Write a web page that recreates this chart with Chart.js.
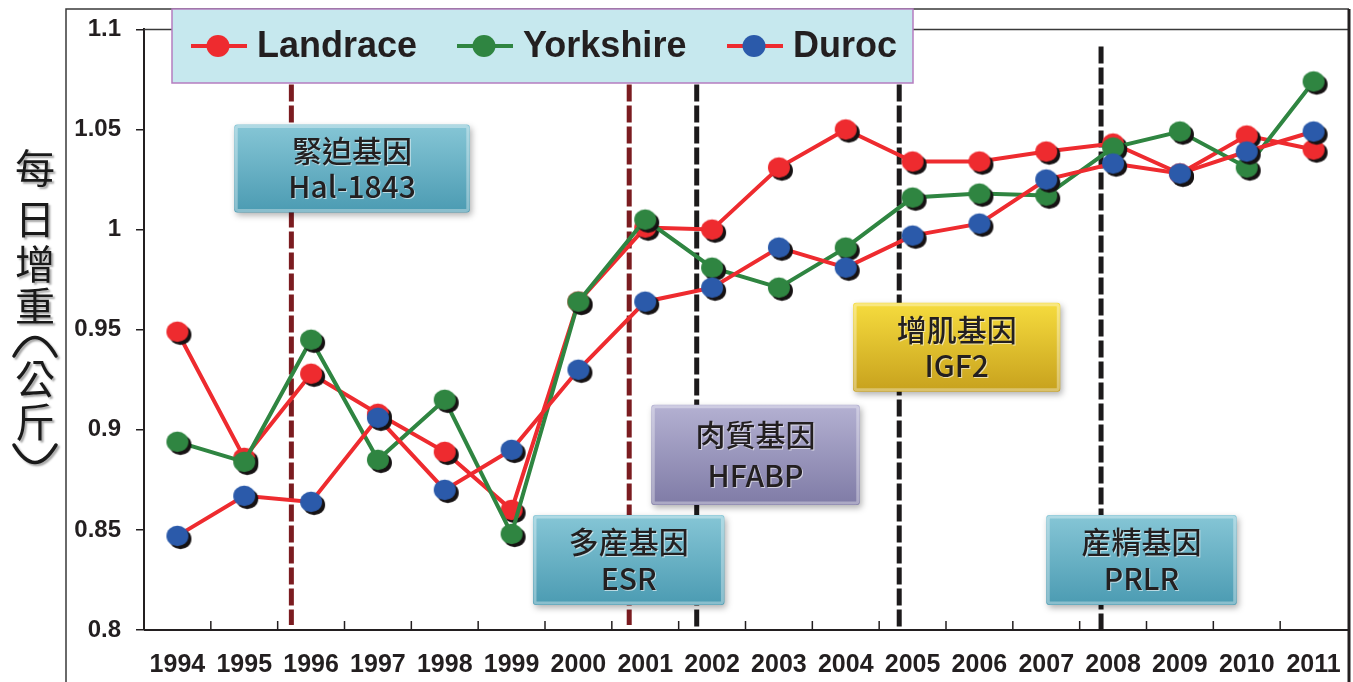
<!DOCTYPE html>
<html>
<head>
<meta charset="utf-8">
<title>每日增重</title>
<script src="https://cdn.jsdelivr.net/npm/chart.js@4"></script>
<style>
  html, body { margin: 0; padding: 0; background: #ffffff; }
  #wrap { width: 1353px; height: 682px; }
</style>
</head>
<body>
<div id="wrap"><canvas id="gainChart" width="1353" height="682"></canvas></div>
<script>
// ---- data ----
const years = ["1994", "1995", "1996", "1997", "1998", "1999", "2000", "2001", "2002",
  "2003", "2004", "2005", "2006", "2007", "2008", "2009", "2010", "2011"];
const landrace = [0.949, 0.886, 0.928, 0.908, 0.889, 0.860, 0.964, 1.001, 1.000,
  1.031, 1.050, 1.034, 1.034, 1.039, 1.043, 1.028, 1.047, 1.040];
const yorkshire = [0.894, 0.884, 0.945, 0.885, 0.915, 0.848, 0.964, 1.005, 0.981,
  0.971, 0.991, 1.016, 1.018, 1.017, 1.041, 1.049, 1.031, 1.074];
const duroc = [0.847, 0.867, 0.864, 0.906, 0.870, 0.890, 0.930, 0.964, 0.971,
  0.991, 0.981, 0.997, 1.003, 1.025, 1.033, 1.028, 1.039, 1.049];
const yTicks = [0.8, 0.85, 0.9, 0.95, 1, 1.05, 1.1];
const yTitle = ["每", "日", "增", "重", "︵", "公", "斤", "︶"];

// gene milestones (vertical dashed lines, in category units from the first year)
const geneLines = [
  { at: 1.705, from: 1.0725, to: 0.8025, color: "#7b1c20" },
  { at: 6.76, from: 1.0725, to: 0.8025, color: "#7b1c20" },
  { at: 7.77, from: 1.0725, to: 0.8, color: "#1c1a1b" },
  { at: 10.8, from: 1.0725, to: 0.8, color: "#1c1a1b" },
  { at: 13.82, from: 1.0915, to: 0.8, color: "#1c1a1b" }
];
// label boxes, x in category units, y in data units
const geneBoxes = [
  { x0: 0.85, x1: 4.375, top: 1.0525, bottom: 1.0085, lines: ["緊迫基因", "Hal-1843"], fill: ["#86c6d6", "#4b9bb2"] },
  { x0: 5.32, x1: 8.185, top: 0.8575, bottom: 0.8125, lines: ["多産基因", "ESR"], fill: ["#86c6d6", "#4b9bb2"] },
  { x0: 7.09, x1: 10.21, top: 0.9125, bottom: 0.8625, lines: ["肉質基因", "HFABP"], fill: ["#b4b1d2", "#7f7ba6"] },
  { x0: 10.11, x1: 13.21, top: 0.9635, bottom: 0.919, lines: ["增肌基因", "IGF2"], fill: ["#f6dc3e", "#c7a11d"] },
  { x0: 13.0, x1: 15.85, top: 0.8575, bottom: 0.8125, lines: ["産精基因", "PRLR"], fill: ["#86c6d6", "#4b9bb2"] }
];

const RED = "#ee2b2f";
const GREEN = "#2f8541";
const BLUE = "#2b5aaa";

// round marker with a hard black drop shadow, baked into a small canvas
function makeMarker(color, r, withShadow) {
  const size = Math.ceil((r + 5) * 2);
  const c = document.createElement("canvas");
  c.width = size;
  c.height = size;
  const g = c.getContext("2d");
  const mid = size / 2;
  if (withShadow) {
    g.fillStyle = "#161213";
    g.beginPath();
    g.ellipse(mid + 3, mid + 3, r, r * 0.93, 0, 0, Math.PI * 2);
    g.fill();
  }
  g.fillStyle = color;
  g.beginPath();
  g.ellipse(mid, mid, r, r * 0.93, 0, 0, Math.PI * 2);
  g.fill();
  return c;
}

const series = [
  { name: "Landrace", data: landrace, line: RED, dot: RED, order: 3 },
  { name: "Yorkshire", data: yorkshire, line: GREEN, dot: GREEN, order: 2 },
  { name: "Duroc", data: duroc, line: RED, dot: BLUE, order: 1 }
];

/* =========================================================
   Decorations: frame, y title, gene lines/boxes, legend
========================================================== */
function catPixel(xScale, at) {
  const p0 = xScale.getPixelForValue(0);
  const step = xScale.getPixelForValue(1) - p0;
  return p0 + at * step;
}

function roundRect(ctx, x, y, w, h, r) {
  ctx.beginPath();
  ctx.moveTo(x + r, y);
  ctx.lineTo(x + w - r, y);
  ctx.quadraticCurveTo(x + w, y, x + w, y + r);
  ctx.lineTo(x + w, y + h - r);
  ctx.quadraticCurveTo(x + w, y + h, x + w - r, y + h);
  ctx.lineTo(x + r, y + h);
  ctx.quadraticCurveTo(x, y + h, x, y + h - r);
  ctx.lineTo(x, y + r);
  ctx.quadraticCurveTo(x, y, x + r, y);
  ctx.closePath();
}

const decorations = {
  id: "decorations",
  beforeDatasetsDraw(chart) {
    const { ctx, chartArea, scales } = chart;
    const x = scales.x, y = scales.y;

    // outer frame and plot box
    ctx.save();
    ctx.strokeStyle = "#3a3a3a";
    ctx.lineWidth = 1.5;
    ctx.beginPath();
    ctx.moveTo(66, 682);
    ctx.lineTo(66, 9);
    ctx.lineTo(1349, 9);
    ctx.stroke();
    ctx.beginPath();
    ctx.moveTo(chartArea.left, chartArea.top);
    ctx.lineTo(1349, chartArea.top);
    ctx.stroke();
    ctx.strokeStyle = "#231f20";
    ctx.lineWidth = 3;
    ctx.beginPath();
    ctx.moveTo(1349, 9);
    ctx.lineTo(1349, 682);
    ctx.stroke();
    ctx.lineWidth = 2;
    ctx.beginPath();
    ctx.moveTo(chartArea.left, chartArea.bottom);
    ctx.lineTo(1349, chartArea.bottom);
    ctx.stroke();

    // inward x ticks between the years
    ctx.lineWidth = 1.5;
    for (let i = 1; i < years.length; i++) {
      const px = catPixel(x, i - 0.5);
      ctx.beginPath();
      ctx.moveTo(px, chartArea.bottom);
      ctx.lineTo(px, chartArea.bottom - 9);
      ctx.stroke();
    }

    // y title, one character under another; the brackets are drawn as arcs
    const titleY = [168, 219, 264, 306, 343, 379, 422, 456];
    ctx.font = "40px 'Noto Sans CJK TC'";
    ctx.textAlign = "center";
    ctx.textBaseline = "middle";
    ctx.fillStyle = "#1a1a1a";
    ctx.strokeStyle = "#1a1a1a";
    ctx.lineWidth = 3.5;
    ctx.lineCap = "round";
    ctx.shadowColor = "rgba(0,0,0,0.35)";
    ctx.shadowOffsetX = 2;
    ctx.shadowOffsetY = 2;
    ctx.shadowBlur = 2;
    yTitle.forEach((ch, i) => {
      const cy = titleY[i];
      if (ch === "︵") {
        ctx.beginPath();
        ctx.moveTo(14, cy + 13);
        ctx.quadraticCurveTo(35, cy - 24, 56, cy + 13);
        ctx.stroke();
      } else if (ch === "︶") {
        ctx.beginPath();
        ctx.moveTo(14, cy - 11);
        ctx.quadraticCurveTo(35, cy + 24, 56, cy - 11);
        ctx.stroke();
      } else {
        ctx.fillText(ch, 35, cy);
      }
    });
    ctx.restore();

    // dashed gene lines
    ctx.save();
    ctx.lineWidth = 5;
    ctx.setLineDash([17, 4]);
    geneLines.forEach(g => {
      const px = catPixel(x, g.at);
      ctx.strokeStyle = g.color;
      ctx.beginPath();
      ctx.moveTo(px, y.getPixelForValue(g.from));
      ctx.lineTo(px, y.getPixelForValue(g.to));
      ctx.stroke();
    });
    ctx.restore();

    // gene label boxes
    geneBoxes.forEach(b => {
      const bx = catPixel(x, b.x0), bw = catPixel(x, b.x1) - bx;
      const by = y.getPixelForValue(b.top), bh = y.getPixelForValue(b.bottom) - by;
      ctx.save();
      ctx.shadowColor = "rgba(0,0,0,0.3)";
      ctx.shadowBlur = 6;
      ctx.shadowOffsetX = 2;
      ctx.shadowOffsetY = 3;
      const grad = ctx.createLinearGradient(0, by, 0, by + bh);
      grad.addColorStop(0, b.fill[0]);
      grad.addColorStop(1, b.fill[1]);
      ctx.fillStyle = grad;
      roundRect(ctx, bx, by, bw, bh, 3);
      ctx.fill();
      ctx.restore();
      // bevel highlight
      ctx.save();
      ctx.strokeStyle = "rgba(255,255,255,0.35)";
      ctx.lineWidth = 3;
      roundRect(ctx, bx + 2, by + 2, bw - 4, bh - 4, 2);
      ctx.stroke();
      ctx.font = "500 30px 'Noto Sans CJK TC'";
      ctx.textAlign = "center";
      ctx.textBaseline = "middle";
      ctx.fillStyle = "#231f20";
      ctx.shadowColor = "rgba(255,255,255,0.6)";
      ctx.shadowOffsetX = 1;
      ctx.shadowOffsetY = 1;
      const cx = bx + bw / 2;
      ctx.fillText(b.lines[0], cx, by + bh * 0.3);
      ctx.fillText(b.lines[1], cx, by + bh * 0.71);
      ctx.restore();
    });
  },
  afterDraw(chart) {
    const { ctx } = chart;
    // legend box across the top
    ctx.save();
    ctx.fillStyle = "#c6e8ee";
    ctx.fillRect(172, 9, 741, 74);
    ctx.strokeStyle = "#b57dc0";
    ctx.lineWidth = 1.5;
    ctx.strokeRect(172, 9, 741, 74);
    const starts = [191, 457, 727];
    ctx.font = "bold 36px 'Liberation Sans', Arial";
    ctx.textBaseline = "middle";
    ctx.textAlign = "left";
    series.forEach((s, i) => {
      const sx = starts[i];
      ctx.strokeStyle = s.line;
      ctx.lineWidth = 4;
      ctx.beginPath();
      ctx.moveTo(sx, 46);
      ctx.lineTo(sx + 56, 46);
      ctx.stroke();
      ctx.fillStyle = s.dot;
      ctx.beginPath();
      ctx.ellipse(sx + 27, 46, 11.5, 11, 0, 0, Math.PI * 2);
      ctx.fill();
      ctx.fillStyle = "#231f20";
      ctx.fillText(s.name, sx + 66, 47);
    });
    ctx.restore();
  }
};

/* =========================================================
   Chart
========================================================== */
const ctx = document.getElementById("gainChart").getContext("2d");

new Chart(ctx, {
  type: "line",
  data: {
    labels: years,
    datasets: series.map(s => ({
      label: s.name,
      data: s.data,
      borderColor: s.line,
      backgroundColor: s.dot,
      borderWidth: 4,
      pointStyle: makeMarker(s.dot, 11, true),
      pointRadius: 11,
      tension: 0,
      fill: false,
      order: s.order
    }))
  },
  options: {
    responsive: false,
    animation: false,
    // no extra room for the big markers: the plot runs right up to the frame
    layout: { autoPadding: false, padding: { top: 29, right: 6, left: 0, bottom: 0 } },
    plugins: {
      legend: { display: false },
      title: { display: false },
      tooltip: { enabled: false }
    },
    scales: {
      x: {
        type: "category",
        offset: true,
        // tick marks are hidden; their length only pushes the labels down
        grid: { display: false, drawTicks: true, tickLength: 20 },
        border: { display: false },
        ticks: {
          color: "#231f20",
          padding: 0,
          maxRotation: 0,
          autoSkip: false,
          font: { family: "'Liberation Sans', Arial", size: 25, weight: "bold" }
        },
        afterFit: s => { s.height = 52; }
      },
      y: {
        min: 0.8,
        max: 1.1,
        afterBuildTicks: s => { s.ticks = yTicks.map(v => ({ value: v })); },
        grid: { drawOnChartArea: false, drawTicks: true, tickLength: 8, color: "#231f20", lineWidth: 1.5 },
        border: { display: true, color: "#231f20", width: 2 },
        ticks: {
          color: "#231f20",
          padding: 15,
          font: { family: "'Liberation Sans', Arial", size: 24, weight: "bold" },
          callback: v => String(+v.toFixed(2))
        },
        afterFit: s => { s.width = 144; }
      }
    }
  },
  plugins: [decorations]
});
</script>
</body>
</html>
